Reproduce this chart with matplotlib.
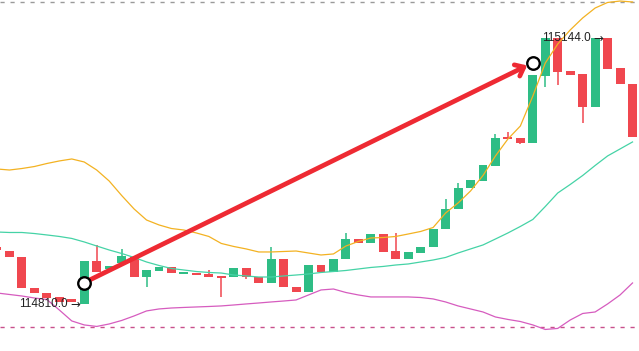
import matplotlib
matplotlib.use("Agg")
import matplotlib.pyplot as plt
import numpy as np

# ---- data ----
opens = [114881.7, 114876.6, 114869.1, 114830.1, 114823.8, 114818.8, 114816.3, 114810.0,
         114864.1, 114854.0, 114861.5, 114869.1, 114843.9, 114851.5, 114856.5, 114847.7,
         114848.9, 114847.7, 114845.2, 114843.9, 114855.3, 114843.9, 114836.4, 114866.6,
         114831.4, 114825.1, 114859.0, 114850.2, 114866.6, 114891.7, 114886.7, 114898.0,
         114876.6, 114866.6, 114874.1, 114881.7, 114904.3, 114929.5, 114955.9, 114964.7,
         114983.6, 115020.1, 115018.8, 115012.5, 115096.8, 115144.0, 115103.1, 115099.3,
         115057.8, 115144.0, 115106.9, 115086.7]
highs = [114881.7, 114876.6, 114869.1, 114830.1, 114823.8, 114818.8, 114816.3, 114864.1,
         114884.2, 114857.8, 114879.2, 114869.1, 114852.7, 114856.5, 114856.5, 114850.2,
         114848.9, 114852.7, 114845.2, 114855.3, 114855.3, 114843.9, 114881.7, 114866.6,
         114831.4, 114859.0, 114859.0, 114866.6, 114899.3, 114891.7, 114898.0, 114898.0,
         114899.3, 114875.4, 114881.7, 114904.3, 114942.1, 114962.2, 114966.0, 114984.8,
         115023.8, 115026.3, 115018.8, 115098.0, 115144.0, 115144.0, 115103.1, 115099.3,
         115144.0, 115144.0, 115106.9, 115086.7]
lows = [114877.9, 114869.1, 114830.1, 114823.8, 114817.5, 114812.5, 114812.5, 114810.0,
        114850.2, 114854.0, 114861.5, 114843.9, 114831.4, 114851.5, 114848.9, 114847.7,
        114846.4, 114843.9, 114818.8, 114843.9, 114841.4, 114836.4, 114836.4, 114831.4,
        114825.1, 114825.1, 114850.2, 114850.2, 114866.6, 114886.7, 114886.7, 114875.4,
        114866.6, 114866.6, 114874.1, 114881.7, 114904.3, 114929.5, 114955.9, 114964.7,
        114983.6, 115017.5, 115011.2, 115012.5, 115083.0, 115085.5, 115098.0, 115037.7,
        115057.8, 115105.6, 115086.7, 115020.1]
closes = [114877.9, 114869.1, 114830.1, 114823.8, 114817.5, 114812.5, 114812.5, 114864.1,
          114850.2, 114857.8, 114870.4, 114843.9, 114852.7, 114856.5, 114848.9, 114850.2,
          114846.4, 114843.9, 114842.6, 114855.3, 114843.9, 114836.4, 114866.6, 114831.4,
          114825.1, 114859.0, 114850.2, 114866.6, 114891.7, 114886.7, 114898.0, 114875.4,
          114866.6, 114875.4, 114881.7, 114904.3, 114929.5, 114955.9, 114966.0, 114984.8,
          115018.8, 115017.5, 115012.5, 115098.0, 115144.0, 115101.8, 115098.0, 115057.8,
          115144.0, 115105.6, 115086.7, 115020.1]

bb_upper = [114979.8, 114978.5, 114980.4, 114982.9, 114986.7, 114989.9, 114992.4, 114988.6,
            114978.5, 114964.7, 114946.5, 114929.5, 114915.6, 114909.4, 114904.9, 114903.0,
            114899.3, 114894.9, 114886.1, 114882.3, 114879.2, 114875.4, 114875.4, 114876.0,
            114876.6, 114874.1, 114871.6, 114872.9, 114882.9, 114888.6, 114893.0, 114893.6,
            114894.9, 114898.0, 114901.2, 114906.2, 114924.4, 114937.0, 114952.1, 114971.6,
            114996.2, 115017.5, 115033.9, 115071.6, 115113.1, 115137.0, 115154.7, 115169.8,
            115182.3, 115189.3, 115191.1, 115189.9]
bb_middle = [114900.5, 114899.9, 114899.9, 114898.6, 114896.8, 114894.9, 114892.4, 114888.0,
             114882.9, 114877.9, 114873.5, 114868.5, 114862.8, 114858.4, 114854.6, 114852.7,
             114850.8, 114849.6, 114848.9, 114846.4, 114845.2, 114843.9, 114843.9, 114845.2,
             114846.4, 114847.7, 114849.6, 114850.8, 114852.1, 114854.0, 114855.9, 114857.2,
             114859.0, 114860.3, 114862.8, 114865.3, 114868.5, 114874.1, 114879.2, 114884.2,
             114891.7, 114899.3, 114907.5, 114916.3, 114932.6, 114949.6, 114960.3, 114971.6,
             114984.2, 114996.2, 115005.0, 115013.8]
bb_lower = [114823.8, 114821.9, 114820.0, 114817.5, 114815.6, 114802.4, 114788.6, 114783.6,
            114781.7, 114784.8, 114789.2, 114794.9, 114801.2, 114803.7, 114804.9, 114805.6,
            114806.2, 114806.8, 114807.5, 114808.7, 114810.0, 114811.2, 114812.5, 114813.7,
            114815.0, 114821.3, 114827.6, 114828.8, 114824.4, 114821.3, 114818.8, 114818.8,
            114818.8, 114818.8, 114818.1, 114816.3, 114812.5, 114807.5, 114803.7, 114799.9,
            114793.6, 114790.5, 114787.9, 114783.6, 114777.9, 114779.2, 114789.8, 114798.0,
            114799.9, 114810.0, 114821.3, 114836.4]

upper_price_line = 115189.3
lower_price_line = 114781.1

arrow_start = (7, 114836.8)
arrow_end = (43, 115113.5)

# ---- styles ----
GREEN = "#2ebd85"
RED = "#f0474f"
ORANGE = "#f3b222"
TEAL = "#45d3a6"
PINK = "#d65cbf"
ARROW_RED = "#ee2a33"

fig = plt.figure(figsize=(6.39, 3.51), dpi=100)
ax = fig.add_axes([0, 0, 1, 1])
ax.set_axis_off()

n = len(opens)
x = np.arange(n)
o = np.array(opens); h = np.array(highs); l = np.array(lows); c = np.array(closes)
up = c >= o
colors = np.where(up, GREEN, RED)
body_bottom = np.minimum(o, c)
body_h = np.maximum(np.abs(c - o), 1.0)
width = 0.72

ax.vlines(x, l, h, colors=colors, lw=1.1, zorder=2)
ax.bar(x, body_h, bottom=body_bottom, width=width, color=colors, lw=0, zorder=3)

ax.plot(x, bb_upper, color=ORANGE, lw=0.9, zorder=4)
ax.plot(x, bb_middle, color=TEAL, lw=0.9, zorder=4)
ax.plot(x, bb_lower, color=PINK, lw=0.9, zorder=4)

ax.axhline(upper_price_line, color="#9a9a9a", lw=1.0, ls=(0, (3, 4.2)), zorder=1)
ax.axhline(lower_price_line, color="#c9508c", lw=1.0, ls=(0, (3, 4.2)), zorder=1)

# min / max labels
imin = int(np.argmin(l))
imax = int(np.where(h == h.max())[0][-1])
fam = ["Liberation Sans", "DejaVu Sans"]
for xi, val in [(imin, l[imin]), (imax, h[imax])]:
    ax.text(xi - width / 2, val, "\u2192", ha="right", va="center",
            fontsize=8.5, color="#222222", family=["DejaVu Sans"], zorder=6)
    ax.text(xi - width / 2 - 0.95, val, f"{val:.1f}", ha="right", va="center",
            fontsize=8.5, color="#222222", family=fam, zorder=6)

# drawn arrow
ax.annotate("", xy=arrow_end, xytext=arrow_start,
            arrowprops=dict(arrowstyle="->,head_length=0.55,head_width=0.45",
                            color=ARROW_RED, lw=3.4, shrinkA=0, shrinkB=4.5),
            zorder=7)
ax.plot([arrow_start[0], arrow_end[0]], [arrow_start[1], arrow_end[1]], ls="none",
        marker="o", ms=9, mfc="white", mec="black", mew=1.7, zorder=8)

ax.set_xlim(0.24, 51.52)
ax.set_ylim(114750.8, 115192.4)

fig.savefig("out.png", dpi=100)
